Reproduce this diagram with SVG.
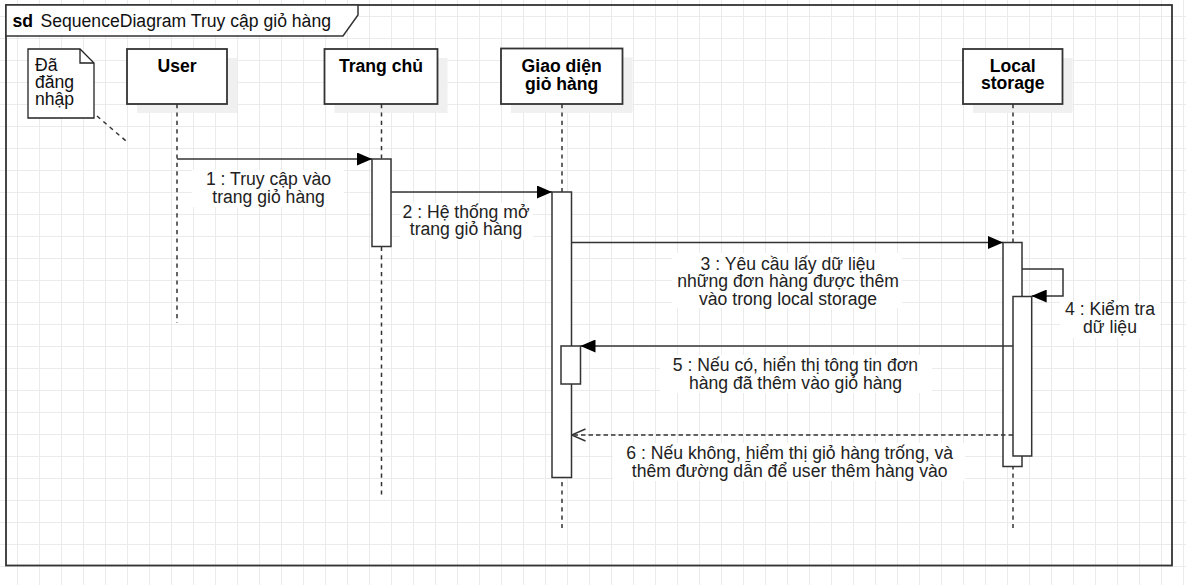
<svg xmlns="http://www.w3.org/2000/svg" width="1186" height="585" viewBox="0 0 1186 585">
<style>
text{font-family:"Liberation Sans",Arial,sans-serif;font-size:17.6px;fill:#111}
.b{font-weight:bold;fill:#000}
.lbl{text-anchor:middle;fill:#222}
.head{fill:#fff;stroke:#333;stroke-width:1.8}
.sh{fill:#f0f0f0}
.life{stroke:#333;stroke-width:1.5;stroke-dasharray:4.2 4.2;fill:none}
.act{fill:#fff;stroke:#333;stroke-width:1.5}
.msg{stroke:#333;stroke-width:1.5;fill:none}
.bg{fill:#fff}
</style>
<defs>
<pattern id="grid" x="17" y="16" width="22" height="22" patternUnits="userSpaceOnUse">
<path d="M0.5 0V22M0 0.5H22" stroke="#ebebeb" stroke-width="1" fill="none"/>
</pattern>
<marker id="block" viewBox="0 0 15 13" refX="15" refY="6.5" markerWidth="15" markerHeight="13" markerUnits="userSpaceOnUse" orient="auto">
<path d="M0,0L15,6.5L0,13z" fill="#000"/>
</marker>
<marker id="open" viewBox="0 0 16 14" refX="15" refY="7" markerWidth="16" markerHeight="14" markerUnits="userSpaceOnUse" orient="auto">
<path d="M1,1L15,7L1,13" fill="none" stroke="#333" stroke-width="1.5"/>
</marker>
</defs>
<rect width="1186" height="585" fill="#fff"/>
<rect width="1186" height="585" fill="url(#grid)"/>

<g id="frame">
<rect x="6" y="5" width="1166" height="560.5" fill="none" stroke="#333" stroke-width="1.8"/>
<path d="M6,5H358V15L343,36H6z" fill="#fff" stroke="#333" stroke-width="1.5"/>
<text x="12.5" y="26.5" class="b">sd</text>
<text x="40.5" y="26.5">SequenceDiagram Truy cập giỏ hàng</text>
</g>

<g id="note">
<path d="M28,49H80L94,63V118H28z" fill="#fff" stroke="#222" stroke-width="1.3"/>
<path d="M80,49V63H94" fill="none" stroke="#222" stroke-width="1.3"/>
<text x="35" y="70.7">Đã</text>
<text x="35" y="87.8">đăng</text>
<text x="35" y="104.5">nhập</text>
</g>

<g id="user">
<rect class="sh" x="137" y="58" width="100" height="55"/>
<rect class="head" x="127" y="49" width="100" height="55"/>
<text x="177" y="72" class="b" text-anchor="middle">User</text>
<path class="life" d="M177,104V323"/>
</g>

<g id="trang-chu">
<rect class="sh" x="334.5" y="58" width="113" height="55"/>
<rect class="head" x="324.5" y="49" width="113" height="55"/>
<text x="381" y="72.3" class="b" text-anchor="middle">Trang chủ</text>
<path class="life" d="M381.5,104V497"/>
<rect class="act" x="372" y="159" width="19" height="87.5"/>
</g>

<g id="giao-dien">
<rect class="sh" x="511" y="57.5" width="121.5" height="55.5"/>
<rect class="head" x="501" y="48.5" width="121.5" height="55.5"/>
<text x="561.7" y="71.7" class="b" text-anchor="middle">Giao diện</text>
<text x="561.7" y="89.7" class="b" text-anchor="middle">giỏ hàng</text>
<path class="life" d="M562,104V528"/>
<rect class="act" x="552" y="192" width="19.5" height="285.5"/>
<rect class="act" x="561" y="346" width="19.5" height="38"/>
</g>

<g id="local-storage">
<rect class="sh" x="973" y="58" width="99.5" height="55"/>
<rect class="head" x="963" y="49" width="99.5" height="55"/>
<text x="1012.7" y="71.7" class="b" text-anchor="middle">Local</text>
<text x="1012.7" y="89" class="b" text-anchor="middle">storage</text>
<path class="life" d="M1013,104V528"/>
<rect class="act" x="1003" y="242.5" width="19" height="224"/>
<rect class="act" x="1013" y="296.5" width="18.7" height="159.5"/>
</g>

<g id="connectors">
<path class="msg" d="M177,159H372" marker-end="url(#block)"/>
<rect class="bg" x="192" y="170" width="152" height="37"/>
<text class="lbl" x="268.5" y="185">1 : Truy cập vào</text>
<text class="lbl" x="268.5" y="202.5">trang giỏ hàng</text>

<path class="msg" d="M391,192H552" marker-end="url(#block)"/>
<rect class="bg" x="400" y="203" width="133" height="37"/>
<text class="lbl" x="466" y="217.5">2 : Hệ thống mở</text>
<text class="lbl" x="466" y="235">trang giỏ hàng</text>

<path class="msg" d="M571.5,242.5H1003" marker-end="url(#block)"/>
<rect class="bg" x="672" y="253" width="230" height="55"/>
<text class="lbl" x="788" y="269.5">3 : Yêu cầu lấy dữ liệu</text>
<text class="lbl" x="788" y="287">những đơn hàng được thêm</text>
<text class="lbl" x="788" y="304.5">vào trong local storage</text>

<path class="msg" d="M1022,269H1063V296H1031.7" marker-end="url(#block)"/>
<rect class="bg" x="1060" y="301" width="100" height="37"/>
<text class="lbl" x="1110" y="315">4 : Kiểm tra</text>
<text class="lbl" x="1110" y="332.5">dữ liệu</text>

<path class="msg" d="M1013,346H580.5" marker-end="url(#block)"/>
<rect class="bg" x="660" y="355" width="272" height="38"/>
<text class="lbl" x="795.5" y="371">5 : Nếu có, hiển thị tông tin đơn</text>
<text class="lbl" x="795.5" y="388.7">hàng đã thêm vào giỏ hàng</text>

<path class="msg" d="M1013,435H571.5" stroke-dasharray="4.5 3" marker-end="url(#open)"/>
<rect class="bg" x="613" y="443" width="352" height="38"/>
<text class="lbl" x="789.7" y="459">6 : Nếu không, hiểm thị giỏ hàng trống, và</text>
<text class="lbl" x="789.7" y="476.7">thêm đường dẫn để user thêm hàng vào</text>

<path class="life" d="M97,116L126,141"/>
</g>
</svg>
